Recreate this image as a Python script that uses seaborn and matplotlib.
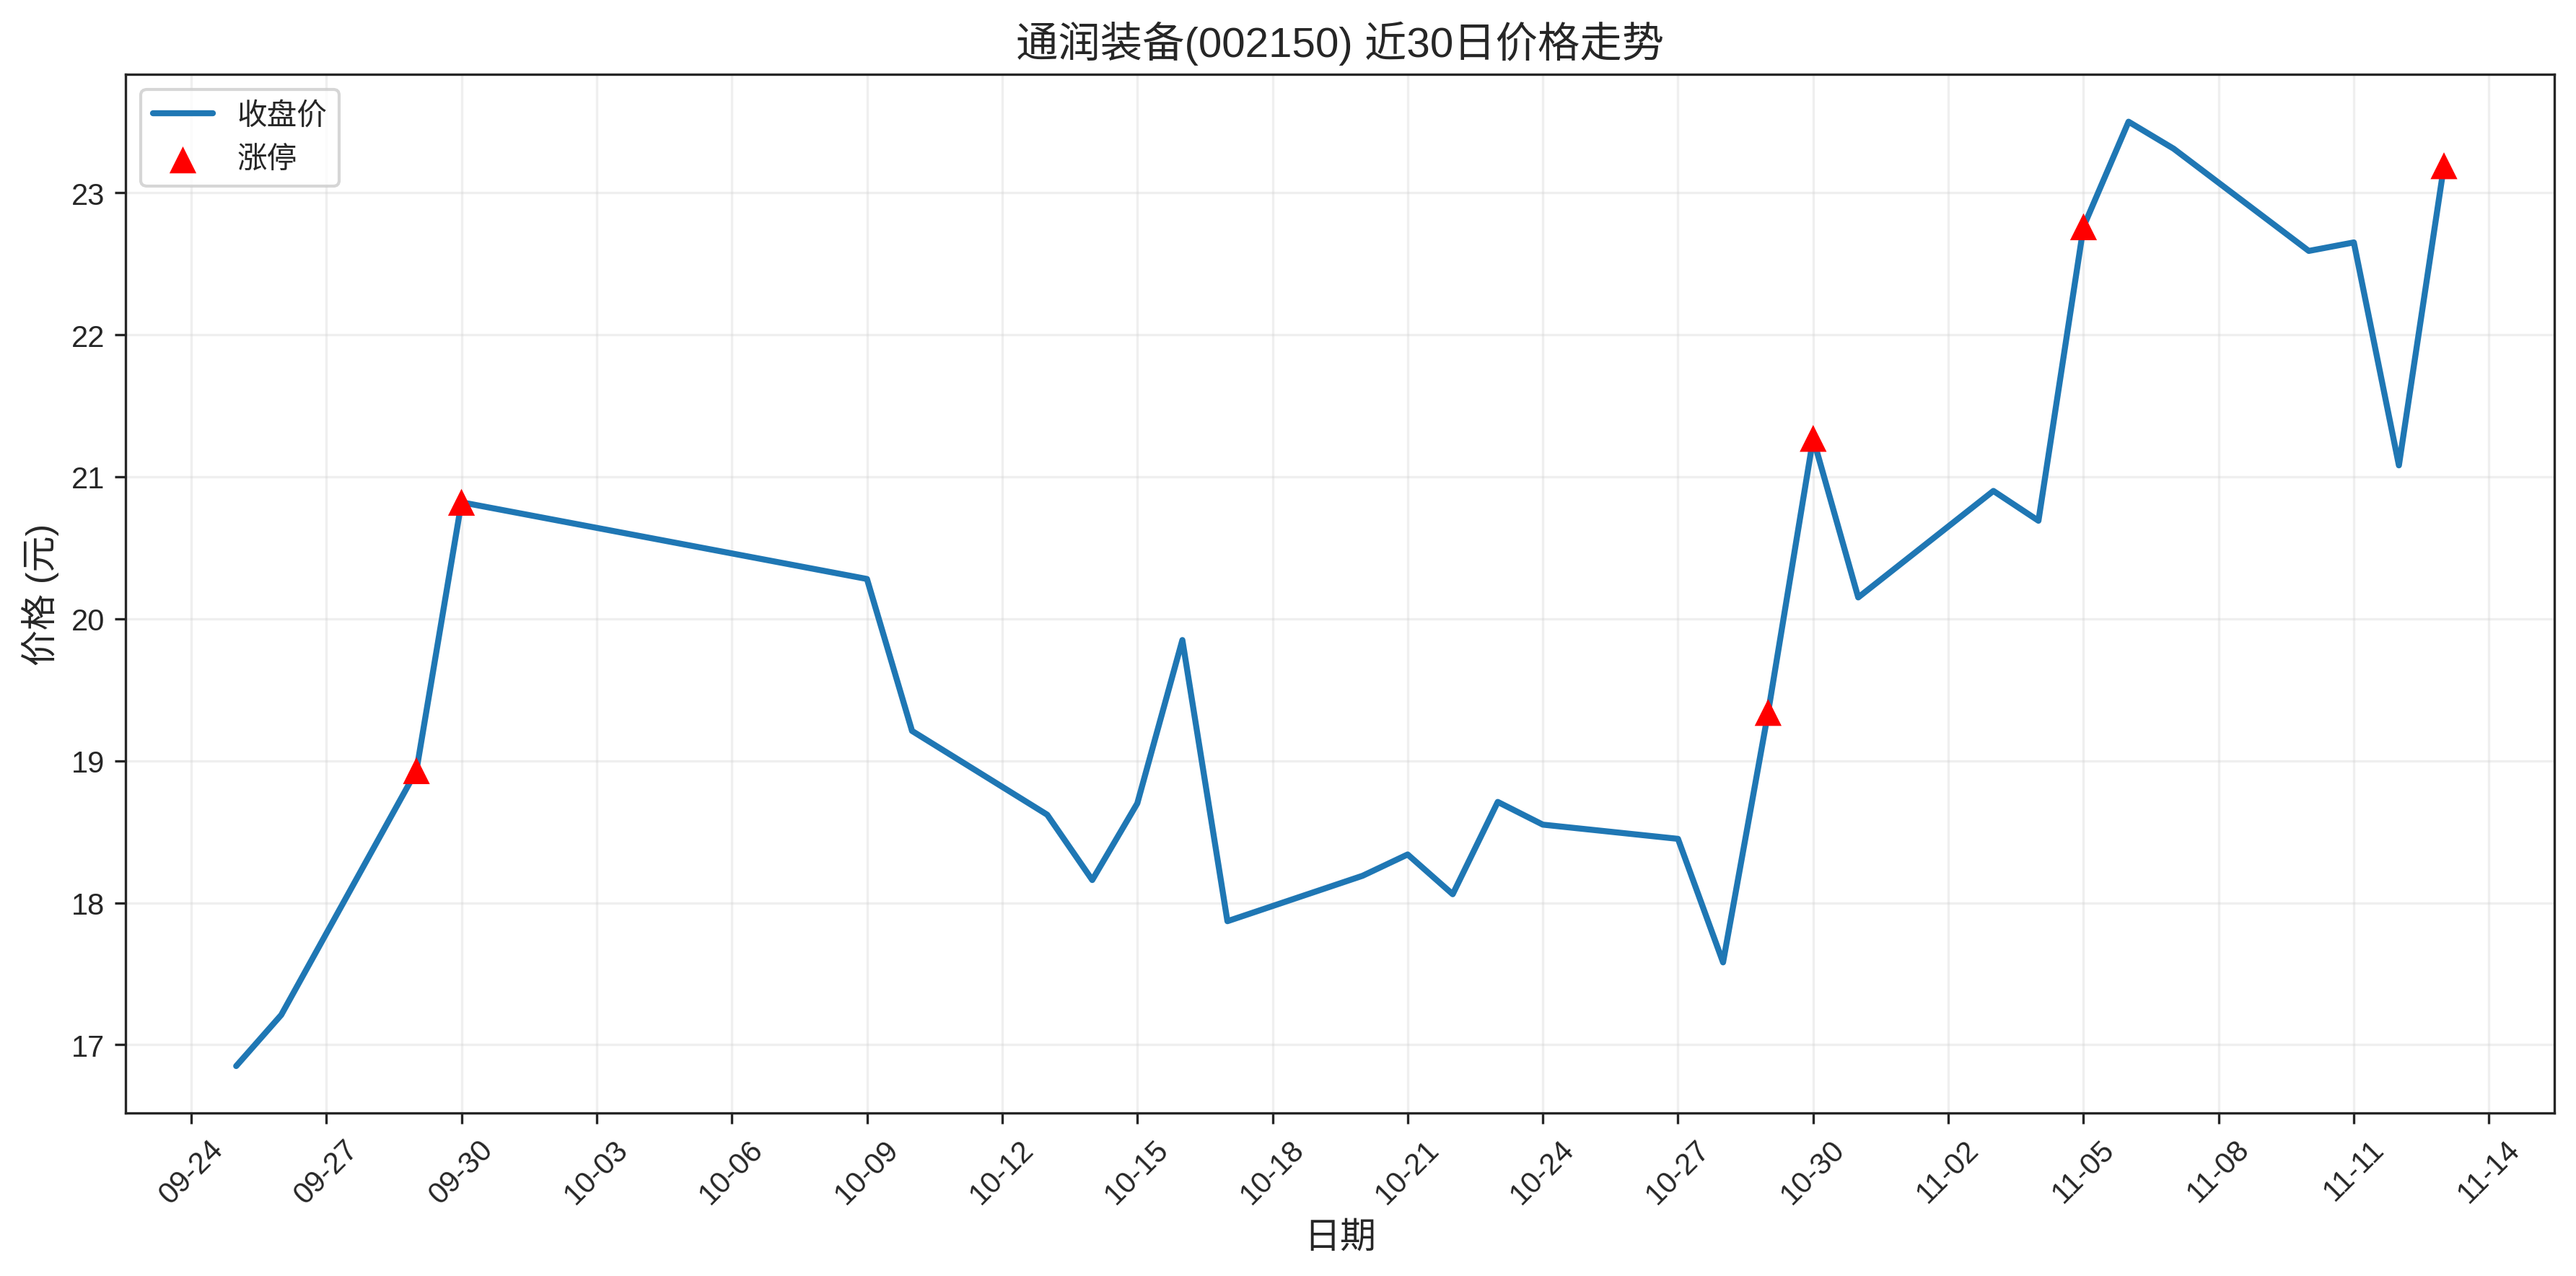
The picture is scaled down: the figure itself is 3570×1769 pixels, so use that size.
import pandas as pd
import seaborn as sns
import matplotlib
matplotlib.use('Agg')
import matplotlib.pyplot as plt
import matplotlib.dates as mdates

sns.set_style("ticks")
plt.rcParams['font.family'] = ['Liberation Sans', 'Noto Sans CJK SC', 'DejaVu Sans']
plt.rcParams['axes.unicode_minus'] = False

dates = ["2025-09-25", "2025-09-26", "2025-09-29", "2025-09-30", "2025-10-09",
         "2025-10-10", "2025-10-13", "2025-10-14", "2025-10-15", "2025-10-16",
         "2025-10-17", "2025-10-20", "2025-10-21", "2025-10-22", "2025-10-23",
         "2025-10-24", "2025-10-27", "2025-10-28", "2025-10-29", "2025-10-30",
         "2025-10-31", "2025-11-03", "2025-11-04", "2025-11-05", "2025-11-06",
         "2025-11-07", "2025-11-10", "2025-11-11", "2025-11-12", "2025-11-13"]
close = [16.85, 17.21, 18.93, 20.82, 20.28,
         19.21, 18.62, 18.16, 18.70, 19.85,
         17.87, 18.19, 18.34, 18.06, 18.71,
         18.55, 18.45, 17.58, 19.34, 21.27,
         20.15, 20.90, 20.69, 22.76, 23.50,
         23.31, 22.59, 22.65, 21.08, 23.19]
limit_up = ["2025-09-29", "2025-09-30", "2025-10-29", "2025-10-30",
            "2025-11-05", "2025-11-13"]

df = pd.DataFrame({"date": pd.to_datetime(dates), "close": close})
up = df[df["date"].isin(pd.to_datetime(limit_up))]

fig, ax = plt.subplots(figsize=(12, 6), dpi=300)
sns.lineplot(data=df, x="date", y="close", ax=ax, color="#1f77b4",
             linewidth=2, label="收盘价")
sns.scatterplot(data=up, x="date", y="close", ax=ax, color="red", marker="^",
                s=80, edgecolor="none", zorder=5, label="涨停")

ax.set_xticks(pd.date_range("2025-09-24", "2025-11-14", freq="3D"))
ax.xaxis.set_major_formatter(mdates.DateFormatter("%m-%d"))
plt.setp(ax.get_xticklabels(), rotation=45)
ax.grid(True, alpha=0.3)
ax.set_title("通润装备(002150) 近30日价格走势", fontsize=14)
ax.set_xlabel("日期", fontsize=12)
ax.set_ylabel("价格 (元)", fontsize=12)
ax.legend(loc="upper left")
for s in ax.spines.values():
    s.set_visible(True)
plt.tight_layout()
plt.savefig("out.png", dpi=300, bbox_inches="tight")
